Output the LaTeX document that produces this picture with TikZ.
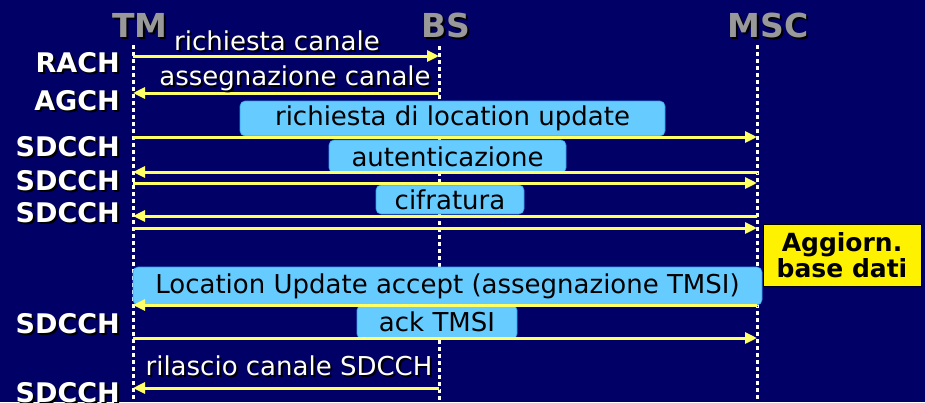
\documentclass[tikz,border=0pt]{standalone}
\usepackage{fontspec}
\setmainfont{DejaVu Sans}
\usetikzlibrary{arrows.meta}
\definecolor{bg}{HTML}{000066}
\definecolor{msgyellow}{HTML}{FFFF66}
\definecolor{boxblue}{HTML}{66CCFF}
\definecolor{boxedge}{HTML}{3399EE}
\definecolor{hdrgray}{HTML}{999999}
\newcommand{\shlabel}[4]{%
  \node[#1,text=black,xshift=2pt,yshift=-2pt] at (#3) {#4};
  \node[#1] (#2) at (#3) {#4};}
\tikzset{
  lifeline/.style={draw=white,line width=3pt,dash pattern=on 3.5pt off 3.5pt},
  msg/.style={draw=msgyellow,line width=3pt,-{Triangle[length=12pt,width=11pt]},
    preaction={draw=black!85,transform canvas={shift={(1,1.5)}}}},
  bluebox/.style={fill=boxblue,draw=boxedge,line width=0.6pt,rounded corners=5pt,
    inner sep=0pt,font=\fontsize{26}{30}\selectfont,text=black},
  dbbox/.style={fill=yellow,draw=black,line width=0.8pt,inner sep=0pt,align=center,
    font=\fontsize{25}{26}\selectfont\bfseries,text=black},
  chanlbl/.style={anchor=base east,inner sep=0pt,text=white,font=\fontsize{27}{30}\selectfont\bfseries},
  hdr/.style={anchor=base,inner sep=0pt,text=hdrgray,font=\fontsize{33}{36}\selectfont\bfseries},
  msglbl/.style={anchor=base,inner sep=0pt,text=white,font=\fontsize{26}{30}\selectfont},
}
\begin{document}
\begin{tikzpicture}[x=1pt,y=-1pt]
\fill[bg] (0,0) rectangle (925,402);
\useasboundingbox (0,0) rectangle (925,402);
% lifelines
\coordinate (tmtop) at (133,45);
\coordinate (tmbot) at (133,402);
\coordinate (bstop) at (439,46);
\coordinate (bsbot) at (439,402);
\coordinate (msctop) at (757,45);
\coordinate (mscbot) at (757,402);
\draw[lifeline] (tmtop) -- (tmbot);
\draw[lifeline] (bstop) -- (bsbot);
\draw[lifeline] (msctop) -- (mscbot);
% headers
\shlabel{hdr}{tm}{140,37}{TM}
\shlabel{hdr}{bs}{446,37}{BS}
\shlabel{hdr}{msc}{768,37}{MSC}
% boxes
\node[bluebox,minimum width=425pt,minimum height=35pt] (b1) at (452.5,118.5) {richiesta di location update};
\node[bluebox,minimum width=237pt,minimum height=33pt] (b2) at (447.5,156.5) {autenticazione};
\node[bluebox,minimum width=148pt,minimum height=29pt] (b3) at (450,199.5) {cifratura};
\node[bluebox,minimum width=629pt,minimum height=38pt] (b4) at (447.5,286) {Location Update accept (assegnazione TMSI)};
\node[bluebox,minimum width=160pt,minimum height=34pt] (b5) at (437,322) {ack TMSI};
\node[dbbox,minimum width=158pt,minimum height=62pt] (db) at (842,255) {Aggiorn.\\base dati};
% rows
\coordinate (r1) at (0,56);
\coordinate (r2) at (0,93);
\coordinate (r3) at (0,137);
\coordinate (r4) at (0,172);
\coordinate (r5) at (0,183);
\coordinate (r6) at (0,216);
\coordinate (r7) at (0,228);
\coordinate (r8) at (0,305);
\coordinate (r9) at (0,338);
\coordinate (r10) at (0,388);
% messages
\draw[msg] (tmtop|-r1) -- (bstop|-r1);
\draw[msg] (bstop|-r2) -- (tmtop|-r2);
\draw[msg] (tmtop|-r3) -- (msctop|-r3);
\draw[msg] (msctop|-r4) -- (tmtop|-r4);
\draw[msg] (tmtop|-r5) -- (msctop|-r5);
\draw[msg] (msctop|-r6) -- (tmtop|-r6);
\draw[msg] (tmtop|-r7) -- (msctop|-r7);
\draw[msg] (msctop|-r8) -- (tmtop|-r8);
\draw[msg] (tmtop|-r9) -- (msctop|-r9);
\draw[msg] (bstop|-r10) -- (tmtop|-r10);
% message labels
\shlabel{msglbl}{m1}{277,50}{richiesta canale}
\shlabel{msglbl}{m2}{295,85}{assegnazione canale}
\shlabel{msglbl}{m10}{289,375}{rilascio canale SDCCH}
% channel labels
\shlabel{chanlbl}{c1}{120,72}{RACH}
\shlabel{chanlbl}{c2}{120,110}{AGCH}
\shlabel{chanlbl}{c3}{120,156}{SDCCH}
\shlabel{chanlbl}{c4}{120,190}{SDCCH}
\shlabel{chanlbl}{c5}{120,222}{SDCCH}
\shlabel{chanlbl}{c6}{120,333}{SDCCH}
\shlabel{chanlbl}{c7}{120,402}{SDCCH}
\end{tikzpicture}
\end{document}
